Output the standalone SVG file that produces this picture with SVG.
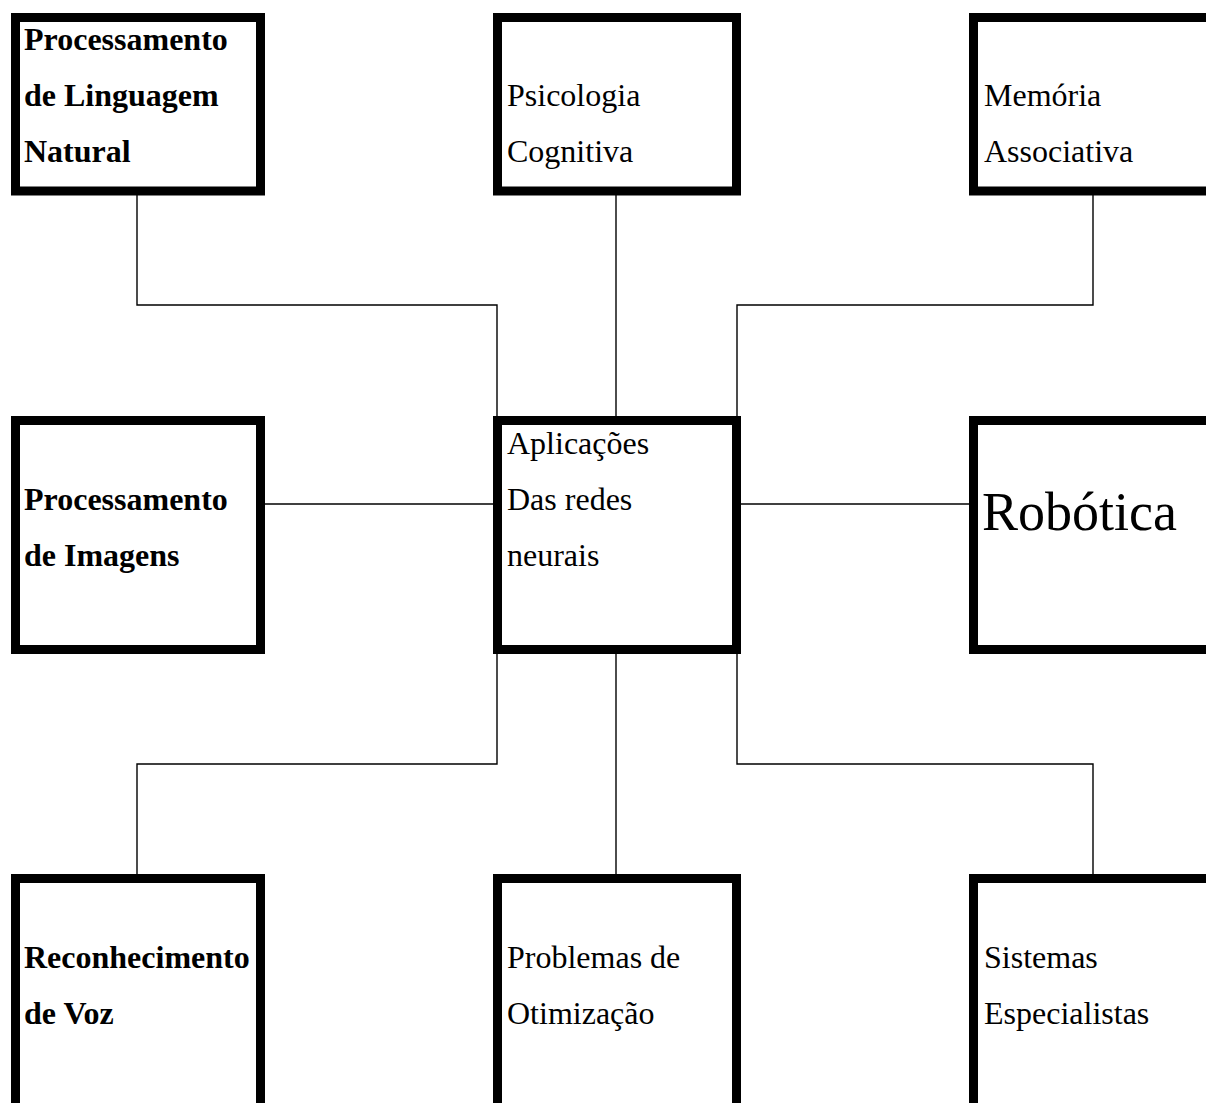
<svg xmlns="http://www.w3.org/2000/svg" width="1206" height="1103" viewBox="0 0 1206 1103">
  <style>
    .box { fill: #fff; stroke: #000; stroke-width: 9; }
    .wire { fill: none; stroke: #000; stroke-width: 1.4; }
    .t { font-family: "Liberation Serif", "Times New Roman", serif; font-size: 32px; fill: #000; }
    .b { font-weight: bold; }
  </style>
  <rect width="1206" height="1103" fill="#fff"/>

  <!-- connectors -->
  <g id="connectors">
    <polyline class="wire" points="137,195 137,305 497,305 497,416"/>
    <line class="wire" x1="616" y1="195" x2="616" y2="416"/>
    <polyline class="wire" points="1093,195 1093,305 737,305 737,416"/>
    <line class="wire" x1="265" y1="504" x2="493" y2="504"/>
    <line class="wire" x1="741" y1="504" x2="969" y2="504"/>
    <polyline class="wire" points="497,654 497,764 137,764 137,874"/>
    <line class="wire" x1="616" y1="654" x2="616" y2="874"/>
    <polyline class="wire" points="737,654 737,764 1093,764 1093,874"/>
  </g>

  <!-- row 1 -->
  <g id="node-pln">
    <rect class="box" x="15.5" y="17.5" width="245" height="173.5"/>
    <text class="t b" x="24" y="50">Processamento</text>
    <text class="t b" x="24" y="106">de Linguagem</text>
    <text class="t b" x="24" y="162">Natural</text>
  </g>
  <g id="node-psicologia">
    <rect class="box" x="497.5" y="17.5" width="239" height="173.5"/>
    <text class="t" x="507" y="106">Psicologia</text>
    <text class="t" x="507" y="162">Cognitiva</text>
  </g>
  <g id="node-memoria">
    <rect class="box" x="973.5" y="17.5" width="260" height="173.5"/>
    <text class="t" x="984" y="106">Memória</text>
    <text class="t" x="984" y="162">Associativa</text>
  </g>

  <!-- row 2 -->
  <g id="node-imagens">
    <rect class="box" x="15.5" y="420.5" width="245" height="229"/>
    <text class="t b" x="24" y="510">Processamento</text>
    <text class="t b" x="24" y="566">de Imagens</text>
  </g>
  <g id="node-aplicacoes">
    <rect class="box" x="497.5" y="420.5" width="239" height="229"/>
    <text class="t" x="507" y="454">Aplicações</text>
    <text class="t" x="507" y="510">Das redes</text>
    <text class="t" x="507" y="566">neurais</text>
  </g>
  <g id="node-robotica">
    <rect class="box" x="973.5" y="420.5" width="260" height="229"/>
    <text class="t" x="982" y="530" style="font-size:54px">Robótica</text>
  </g>

  <!-- row 3 -->
  <g id="node-voz">
    <rect class="box" x="15.5" y="878.5" width="245" height="260"/>
    <text class="t b" x="24" y="968">Reconhecimento</text>
    <text class="t b" x="24" y="1024">de Voz</text>
  </g>
  <g id="node-otimizacao">
    <rect class="box" x="497.5" y="878.5" width="239" height="260"/>
    <text class="t" x="507" y="968">Problemas de</text>
    <text class="t" x="507" y="1024">Otimização</text>
  </g>
  <g id="node-especialistas">
    <rect class="box" x="973.5" y="878.5" width="260" height="260"/>
    <text class="t" x="984" y="968">Sistemas</text>
    <text class="t" x="984" y="1024">Especialistas</text>
  </g>
</svg>
